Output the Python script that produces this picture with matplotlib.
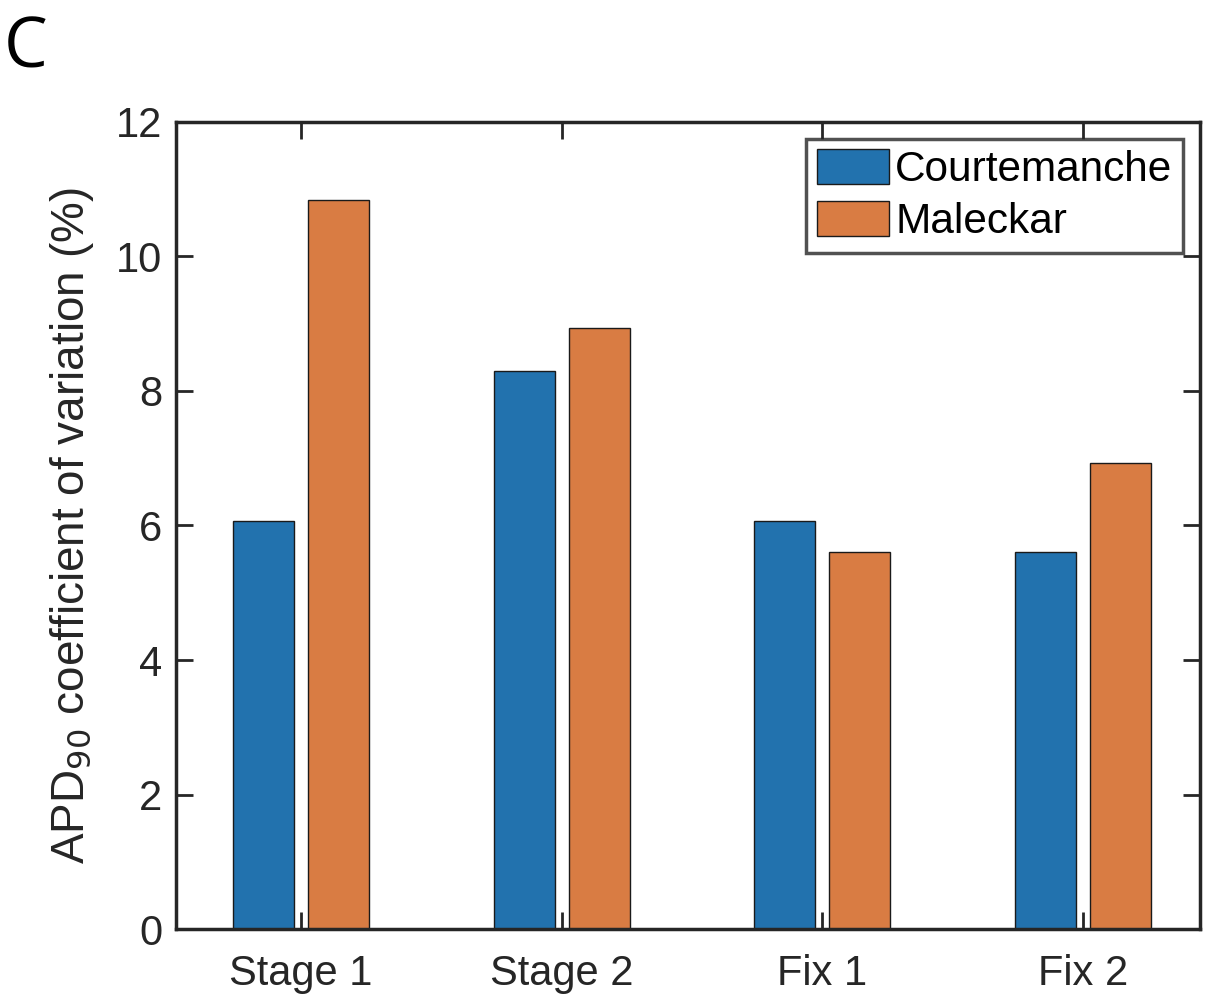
import numpy as np
import matplotlib.pyplot as plt

plt.rcParams['font.family'] = ['Liberation Sans', 'DejaVu Sans']

categories = ['Stage 1', 'Stage 2', 'Fix 1', 'Fix 2']
courtemanche = [6.07, 8.30, 6.07, 5.61]
maleckar = [10.83, 8.93, 5.61, 6.93]

blue = '#2272AE'
orange = '#D97C43'

fig = plt.figure(figsize=(12.06, 9.97), dpi=100)
ax = fig.add_axes([0.146, 0.068, 0.849, 0.81])

x = np.arange(1, len(categories) + 1)
w = 0.234
off = 0.144
ax.bar(x - off, courtemanche, width=w, color=blue,
       edgecolor='#1a1a1a', linewidth=1.0, label='Courtemanche')
ax.bar(x + off, maleckar, width=w, color=orange,
       edgecolor='#1a1a1a', linewidth=1.0, label='Maleckar')

ax.set_xlim(0.52, 4.45)
ax.set_ylim(0, 12)
ax.set_xticks(x)
ax.set_xticklabels(categories)
ax.set_yticks(np.arange(0, 13, 2))
ax.tick_params(direction='in', length=12, width=2, labelsize=30,
               colors='#262626', top=True, right=True)
ax.tick_params(axis='x', pad=18)
ax.tick_params(axis='y', pad=10)
for s in ax.spines.values():
    s.set_linewidth(2.5)
    s.set_color('#262626')

ax.set_ylabel('APD$_{90}$ coefficient of variation (%)', fontsize=33,
              color='#262626', labelpad=14)

leg = ax.legend(loc='upper right', fontsize=30.5, frameon=True, fancybox=False,
                edgecolor='#262626', handlelength=1.7, handleheight=0.9,
                handletextpad=0.15, borderpad=0.25, labelspacing=0.25,
                borderaxespad=0.4)
leg.get_frame().set_linewidth(2.5)

fig.text(0.003, 0.932, 'C', fontsize=50, family=['Open Sans', 'DejaVu Sans'])

fig.savefig('out.png', dpi=100)
